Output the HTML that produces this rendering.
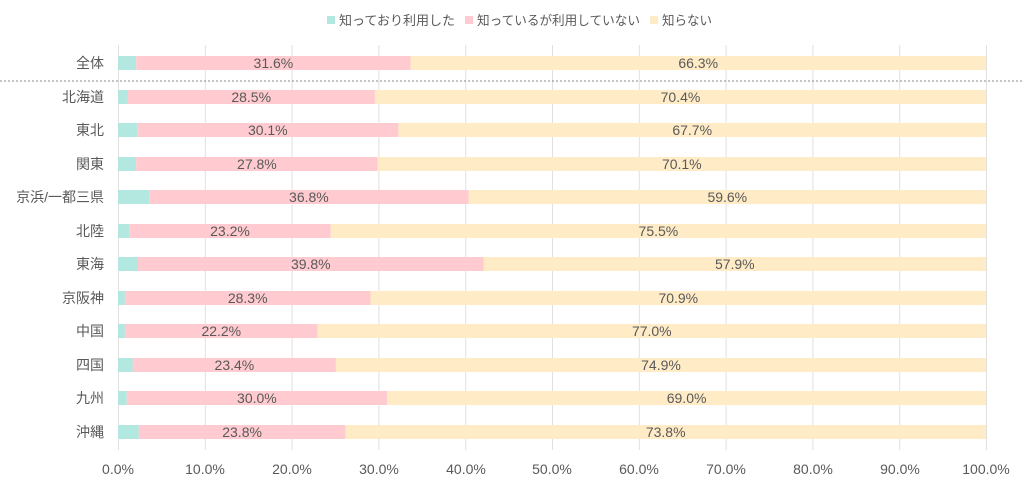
<!DOCTYPE html>
<html><head><meta charset="utf-8"><style>
body{margin:0;background:#fff;}
svg{display:block;font-family:"Liberation Sans","Noto Sans CJK JP",sans-serif;}
text{fill:#595959;font-size:14px;}
</style></head><body>
<svg width="1024" height="483" viewBox="0 0 1024 483">
<g stroke="#e0e0e0" stroke-width="1">
<line x1="118.5" y1="45" x2="118.5" y2="450"/><line x1="205.3" y1="45" x2="205.3" y2="450"/><line x1="292.1" y1="45" x2="292.1" y2="450"/><line x1="378.9" y1="45" x2="378.9" y2="450"/><line x1="465.7" y1="45" x2="465.7" y2="450"/><line x1="552.5" y1="45" x2="552.5" y2="450"/><line x1="639.3" y1="45" x2="639.3" y2="450"/><line x1="726.1" y1="45" x2="726.1" y2="450"/><line x1="812.9" y1="45" x2="812.9" y2="450"/><line x1="899.7" y1="45" x2="899.7" y2="450"/><line x1="986.5" y1="45" x2="986.5" y2="450"/>
</g>
<line x1="0" y1="81" x2="1024" y2="81" stroke="#888" stroke-dasharray="2,2"/>
<g>
<rect x="118" y="56" width="18.2" height="14" fill="#b3e8e0"/><rect x="136.2" y="56" width="274.3" height="14" fill="#ffcbd0"/><rect x="410.5" y="56" width="575.5" height="14" fill="#ffecc7"/>
<rect x="118" y="90" width="9.5" height="14" fill="#b3e8e0"/><rect x="127.5" y="90" width="247.4" height="14" fill="#ffcbd0"/><rect x="374.9" y="90" width="611.1" height="14" fill="#ffecc7"/>
<rect x="118" y="123" width="19.1" height="14" fill="#b3e8e0"/><rect x="137.1" y="123" width="261.3" height="14" fill="#ffcbd0"/><rect x="398.4" y="123" width="587.6" height="14" fill="#ffecc7"/>
<rect x="118" y="157" width="18.2" height="14" fill="#b3e8e0"/><rect x="136.2" y="157" width="241.3" height="14" fill="#ffcbd0"/><rect x="377.5" y="157" width="608.5" height="14" fill="#ffecc7"/>
<rect x="118" y="190" width="31.2" height="14" fill="#b3e8e0"/><rect x="149.2" y="190" width="319.4" height="14" fill="#ffcbd0"/><rect x="468.6" y="190" width="517.4" height="14" fill="#ffecc7"/>
<rect x="118" y="224" width="11.3" height="14" fill="#b3e8e0"/><rect x="129.3" y="224" width="201.4" height="14" fill="#ffcbd0"/><rect x="330.7" y="224" width="655.3" height="14" fill="#ffecc7"/>
<rect x="118" y="257" width="20" height="14" fill="#b3e8e0"/><rect x="138" y="257" width="345.5" height="14" fill="#ffcbd0"/><rect x="483.5" y="257" width="502.5" height="14" fill="#ffecc7"/>
<rect x="118" y="291" width="6.9" height="14" fill="#b3e8e0"/><rect x="124.9" y="291" width="245.6" height="14" fill="#ffcbd0"/><rect x="370.5" y="291" width="615.5" height="14" fill="#ffecc7"/>
<rect x="118" y="324" width="6.9" height="14" fill="#b3e8e0"/><rect x="124.9" y="324" width="192.7" height="14" fill="#ffcbd0"/><rect x="317.6" y="324" width="668.4" height="14" fill="#ffecc7"/>
<rect x="118" y="358" width="14.8" height="14" fill="#b3e8e0"/><rect x="132.8" y="358" width="203.1" height="14" fill="#ffcbd0"/><rect x="335.9" y="358" width="650.1" height="14" fill="#ffecc7"/>
<rect x="118" y="391" width="8.7" height="14" fill="#b3e8e0"/><rect x="126.7" y="391" width="260.4" height="14" fill="#ffcbd0"/><rect x="387.1" y="391" width="598.9" height="14" fill="#ffecc7"/>
<rect x="118" y="425" width="20.8" height="14" fill="#b3e8e0"/><rect x="138.8" y="425" width="206.6" height="14" fill="#ffcbd0"/><rect x="345.4" y="425" width="640.6" height="14" fill="#ffecc7"/>
</g>
<g text-anchor="end" style="font-size:14.5px">
<text x="104" y="68">全体</text><text x="104" y="102">北海道</text><text x="104" y="135">東北</text><text x="104" y="169">関東</text><text x="104" y="202">京浜/一都三県</text><text x="104" y="236">北陸</text><text x="104" y="269">東海</text><text x="104" y="303">京阪神</text><text x="104" y="336">中国</text><text x="104" y="370">四国</text><text x="104" y="403">九州</text><text x="104" y="437">沖縄</text>
</g>
<g text-anchor="middle" style="font-size:15px">
<text x="273.4" y="68">31.6%</text><text x="698.2" y="68">66.3%</text>
<text x="251.2" y="102">28.5%</text><text x="680.5" y="102">70.4%</text>
<text x="267.8" y="135">30.1%</text><text x="692.2" y="135">67.7%</text>
<text x="256.9" y="169">27.8%</text><text x="681.8" y="169">70.1%</text>
<text x="308.9" y="202">36.8%</text><text x="727.3" y="202">59.6%</text>
<text x="230" y="236">23.2%</text><text x="658.4" y="236">75.5%</text>
<text x="310.8" y="269">39.8%</text><text x="734.8" y="269">57.9%</text>
<text x="247.7" y="303">28.3%</text><text x="678.3" y="303">70.9%</text>
<text x="221.3" y="336">22.2%</text><text x="651.8" y="336">77.0%</text>
<text x="234.4" y="370">23.4%</text><text x="661" y="370">74.9%</text>
<text x="256.9" y="403">30.0%</text><text x="686.6" y="403">69.0%</text>
<text x="242.1" y="437">23.8%</text><text x="665.7" y="437">73.8%</text>
</g>
<g text-anchor="middle" style="font-size:15px">
<text x="118" y="474">0.0%</text><text x="205" y="474">10.0%</text><text x="292" y="474">20.0%</text><text x="379" y="474">30.0%</text><text x="466" y="474">40.0%</text><text x="552" y="474">50.0%</text><text x="639" y="474">60.0%</text><text x="726" y="474">70.0%</text><text x="813" y="474">80.0%</text><text x="900" y="474">90.0%</text><text x="986" y="474">100.0%</text>
</g>
<rect x="327" y="16" width="8" height="8" fill="#b3e8e0"/><text x="339" y="25" style="font-size:13px" textLength="116" lengthAdjust="spacingAndGlyphs">知っており利用した</text>
<rect x="465" y="16" width="8" height="8" fill="#ffcbd0"/><text x="477" y="25" style="font-size:13px" textLength="163" lengthAdjust="spacingAndGlyphs">知っているが利用していない</text>
<rect x="650" y="16" width="8" height="8" fill="#ffecc7"/><text x="662" y="25" style="font-size:13px" textLength="50" lengthAdjust="spacingAndGlyphs">知らない</text>
</svg>
</body></html>
